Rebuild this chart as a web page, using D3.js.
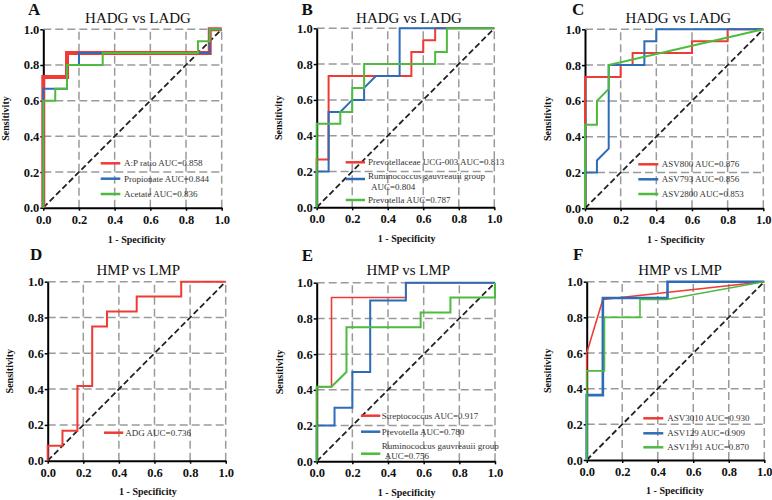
<!DOCTYPE html>
<html>
<head>
<meta charset="utf-8">
<script src="https://cdn.jsdelivr.net/npm/d3@7"></script>
<style>
  html, body { margin: 0; padding: 0; background: #fff; }
  svg { display: block; }
  svg text { font-family: "Liberation Serif", "Times New Roman", "DejaVu Serif", serif; }
</style>
</head>
<body>
<svg id="chart" width="772" height="500"></svg>
<script>
// ---------------- DATA ----------------
const panelLetters = ["A", "B", "C", "D", "E", "F"];
const panelTitles = ["HADG vs LADG", "HADG vs LADG", "HADG vs LADG", "HMP vs LMP", "HMP vs LMP", "HMP vs LMP"];
const tickValues = [0, 0.2, 0.4, 0.6, 0.8, 1.0];
const xAxisTitle = "1 - Specificity";
const yAxisTitle = "Sensitivity";

// Panel A
const rocA_APratio = [[0,0],[0,0.733],[0.133,0.733],[0.133,0.867],[0.933,0.867],[0.933,1],[1,1]];
const rocA_Propionate = [[0,0],[0,0.667],[0.133,0.667],[0.133,0.8],[0.2,0.8],[0.2,0.867],[0.933,0.867],[0.933,1],[1,1]];
const rocA_Acetate = [[0,0],[0,0.6],[0.067,0.6],[0.067,0.667],[0.133,0.667],[0.133,0.8],[0.333,0.8],[0.333,0.867],[0.867,0.867],[0.867,0.933],[0.933,0.933],[0.933,1],[1,1]];
const legendA = [["A:P ratio AUC=0.858"], ["Propionate  AUC=0.844"], ["Acetate AUC=0.836"]];

// Panel B
const rocB_Prevotellaceae = [[0,0],[0,0.267],[0.067,0.267],[0.067,0.733],[0.533,0.733],[0.533,0.867],[0.6,0.867],[0.6,0.933],[0.667,0.933],[0.667,1],[1,1]];
const rocB_Ruminococcus = [[0,0],[0,0.2],[0.067,0.2],[0.067,0.533],[0.133,0.533],[0.2,0.6],[0.267,0.6],[0.267,0.667],[0.333,0.733],[0.467,0.733],[0.467,1],[1,1]];
const rocB_Prevotella = [[0,0],[0,0.467],[0.133,0.467],[0.133,0.533],[0.2,0.533],[0.2,0.667],[0.267,0.667],[0.267,0.8],[0.667,0.8],[0.667,0.867],[0.733,0.867],[0.733,1],[1,1]];
const legendB = [["Prevotellaceae UCG-003 AUC=0.813"], ["Ruminococcus gauvreauii group", "AUC=0.804"], ["Prevotella AUC=0.787"]];

// Panel C
const rocC_ASV800 = [[0,0],[0,0.733],[0.2,0.733],[0.2,0.8],[0.267,0.8],[0.267,0.867],[0.6,0.867],[0.6,0.933],[0.8,0.933],[0.8,1],[1,1]];
const rocC_ASV793 = [[0,0],[0,0.2],[0.067,0.2],[0.067,0.267],[0.133,0.333],[0.133,0.8],[0.333,0.8],[0.333,0.933],[0.4,0.933],[0.4,1],[1,1]];
const rocC_ASV2800 = [[0,0],[0,0.467],[0.067,0.467],[0.067,0.6],[0.133,0.667],[0.133,0.8],[1,1]];
const legendC = [["ASV800 AUC=0.876"], ["ASV793 AUC=0.856"], ["ASV2800 AUC=0.853"]];

// Panel D
const rocD_ADG = [[0,0],[0,0.083],[0.083,0.083],[0.083,0.167],[0.167,0.167],[0.167,0.417],[0.25,0.417],[0.25,0.75],[0.333,0.75],[0.333,0.833],[0.5,0.833],[0.5,0.917],[0.75,0.917],[0.75,1],[1,1]];
const legendD = [["ADG AUC=0.736"]];

// Panel E
const rocE_Streptococcus = [[0,0],[0,0.417],[0.083,0.417],[0.083,0.917],[0.5,0.917],[0.5,1],[1,1]];
const rocE_Prevotella = [[0,0],[0,0.2],[0.1,0.2],[0.1,0.3],[0.2,0.3],[0.2,0.5],[0.3,0.5],[0.3,0.9],[0.5,0.9],[0.5,1],[1,1]];
const rocE_Ruminococcus = [[0,0],[0,0.417],[0.083,0.417],[0.167,0.5],[0.167,0.75],[0.583,0.75],[0.583,0.833],[0.75,0.833],[0.75,0.917],[1,0.917],[1,1]];
const legendE = [["Streptococcus AUC=0.917"], ["Prevotella AUC=0.780"], ["Ruminococcus gauvreauii group", "AUC=0.756"]];

// Panel F
const rocF_ASV3010 = [[0,0],[0,0.6],[0.091,0.9],[1,1]];
const rocF_ASV129 = [[0,0],[0,0.364],[0.091,0.364],[0.091,0.909],[0.455,0.909],[0.455,1],[1,1]];
const rocF_ASV1191 = [[0,0],[0,0.5],[0.1,0.5],[0.1,0.8],[0.3,0.8],[0.3,0.9],[0.45,0.9],[1,1]];
const legendF = [["ASV3010 AUC=0.930"], ["ASV129 AUC=0.909"], ["ASV1191 AUC=0.870"]];

// ---------------- STYLE / LAYOUT ----------------
const RED = "#ee3b36", BLUE = "#2f6cb8", GREEN = "#4cbb3e";
const FONT = "'Liberation Serif', 'Times New Roman', 'DejaVu Serif', serif";

const layout = [
  { x0: 43.3, x1: 221.7, yT: 29.3, yB: 207.7, titleX: 138, titleY: 22.7, letterX: 28, letterY: 15.2,
    xlabX: 136.7, xlabY: 242.5, ylabX: 5.5,
    leg: { lx1: 100.7, lx2: 120.3, tx: 124, lineY: [163.3, 178.7, 194], textY: [[163.3],[178.7],[194]] },
    series: [rocA_APratio, rocA_Propionate, rocA_Acetate], legend: legendA,
    colors: [RED, BLUE, GREEN], widths: [4, 2, 2] },
  { x0: 316.7, x1: 494.3, yT: 28.3, yB: 207.3, titleX: 409, titleY: 22.7, letterX: 301.5, letterY: 15.2,
    xlabX: 406.7, xlabY: 241.7, ylabX: 278,
    leg: { lx1: 345.7, lx2: 365, tx: 368, lineY: [162.3, 179, 200], textY: [[162.3],[176, 187.3],[200]] },
    series: [rocB_Prevotellaceae, rocB_Ruminococcus, rocB_Prevotella], legend: legendB,
    colors: [RED, BLUE, GREEN], widths: [2, 2, 2] },
  { x0: 585, x1: 763.3, yT: 29.3, yB: 208.3, titleX: 678.3, titleY: 23.3, letterX: 572, letterY: 15.2,
    xlabX: 676, xlabY: 242.5, ylabX: 547,
    leg: { lx1: 638.3, lx2: 658.3, tx: 661.7, lineY: [164.3, 179.3, 194], textY: [[164.3],[179.3],[194]] },
    series: [rocC_ASV800, rocC_ASV793, rocC_ASV2800], legend: legendC,
    colors: [RED, BLUE, GREEN], widths: [2, 2, 2] },
  { x0: 47.7, x1: 225.7, yT: 281.7, yB: 460.7, titleX: 138.3, titleY: 275, letterX: 30, letterY: 260,
    xlabX: 148, xlabY: 495, ylabX: 9,
    leg: { lx1: 104, lx2: 123.3, tx: 125.3, lineY: [432.7], textY: [[432.7]] },
    series: [rocD_ADG], legend: legendD,
    colors: [RED], widths: [2] },
  { x0: 316.7, x1: 495, yT: 282.7, yB: 461.3, titleX: 408.3, titleY: 275, letterX: 301.7, letterY: 260.7,
    xlabX: 406.7, xlabY: 496, ylabX: 279,
    leg: { lx1: 361, lx2: 380.3, tx: 381.7, lineY: [415.7, 431.7, 453.7], textY: [[415.7],[431.7],[446, 456]] },
    series: [rocE_Streptococcus, rocE_Prevotella, rocE_Ruminococcus], legend: legendE,
    colors: [RED, BLUE, GREEN], widths: [1.6, 2, 2] },
  { x0: 586.7, x1: 764.3, yT: 281.7, yB: 460, titleX: 680, titleY: 275, letterX: 573, letterY: 260,
    xlabX: 675, xlabY: 494, ylabX: 547,
    leg: { lx1: 643.3, lx2: 663.3, tx: 667.3, lineY: [418.3, 433.3, 447.3], textY: [[418.3],[433.3],[447.3]] },
    series: [rocF_ASV3010, rocF_ASV129, rocF_ASV1191], legend: legendF,
    colors: [RED, BLUE, GREEN], widths: [1.6, 2.6, 1.6] }
];

// ---------------- DRAW ----------------
const svg = d3.select("#chart");
const fmt = d3.format(".1f");

layout.forEach((p, i) => {
  const x = d3.scaleLinear().domain([0, 1]).range([p.x0, p.x1]);
  const y = d3.scaleLinear().domain([0, 1]).range([p.yB, p.yT]);
  const g = svg.append("g").attr("font-family", FONT);

  // grid
  const gridVals = tickValues.filter(v => v > 0);
  g.selectAll(".gx").data(gridVals).enter().append("line")
    .attr("x1", d => x(d)).attr("x2", d => x(d))
    .attr("y1", y(0)).attr("y2", y(1))
    .attr("stroke", "#9a9a9a").attr("stroke-width", 1.5).attr("stroke-dasharray", "8,4");
  g.selectAll(".gy").data(gridVals).enter().append("line")
    .attr("x1", x(0)).attr("x2", x(1))
    .attr("y1", d => y(d)).attr("y2", d => y(d))
    .attr("stroke", "#9a9a9a").attr("stroke-width", 1.5).attr("stroke-dasharray", "8,4");

  // diagonal reference
  g.append("path")
    .attr("d", d3.line().x(d => x(d[0])).y(d => y(d[1]))([[0, 0], [1, 1]]))
    .attr("stroke", "#222").attr("stroke-width", 1.8).attr("stroke-dasharray", "6,3")
    .attr("fill", "none");

  // axes
  const xAxis = d3.axisBottom(x).tickValues(tickValues).tickFormat(fmt).tickSizeInner(3).tickSizeOuter(0).tickPadding(4);
  const yAxis = d3.axisLeft(y).tickValues(tickValues).tickFormat(fmt).tickSizeInner(3).tickSizeOuter(0).tickPadding(1);
  const gx = g.append("g").attr("transform", `translate(0,${p.yB})`).call(xAxis);
  const gy = g.append("g").attr("transform", `translate(${p.x0},0)`).call(yAxis);
  [gx, gy].forEach(a => {
    a.attr("font-family", FONT);
    a.select(".domain").attr("stroke", "#000").attr("stroke-width", 2);
    a.selectAll(".tick line").attr("stroke", "#000").attr("stroke-width", 1.5);
    a.selectAll(".tick text")
      .attr("font-family", FONT)
      .attr("font-size", 12.5).attr("font-weight", "bold").attr("fill", "#111");
  });

  // curves
  const line = d3.line().x(d => x(d[0])).y(d => y(d[1]));
  p.series.forEach((s, k) => {
    g.append("path").attr("d", line(s))
      .attr("fill", "none").attr("stroke", p.colors[k])
      .attr("stroke-width", p.widths[k]).attr("stroke-linejoin", "miter");
  });

  // legend
  p.legend.forEach((lbl, k) => {
    g.append("line")
      .attr("x1", p.leg.lx1).attr("x2", p.leg.lx2)
      .attr("y1", p.leg.lineY[k]).attr("y2", p.leg.lineY[k])
      .attr("stroke", p.colors[k]).attr("stroke-width", 2.5);
    lbl.forEach((t, j) => {
      g.append("text")
        .attr("x", p.leg.tx + (j > 0 ? 3 : 0)).attr("y", p.leg.textY[k][j])
        .attr("dominant-baseline", "central")
        .attr("font-size", 9).attr("fill", "#333")
        .text(t);
    });
  });

  // titles
  g.append("text").attr("x", p.titleX).attr("y", p.titleY)
    .attr("text-anchor", "middle").attr("font-size", 15).attr("fill", "#111")
    .text(panelTitles[i]);
  g.append("text").attr("x", p.letterX).attr("y", p.letterY)
    .attr("font-size", 17).attr("font-weight", "bold").attr("fill", "#111")
    .text(panelLetters[i]);
  g.append("text").attr("x", p.xlabX).attr("y", p.xlabY)
    .attr("text-anchor", "middle").attr("font-size", 10).attr("font-weight", "bold").attr("fill", "#111")
    .text(xAxisTitle);
  g.append("text")
    .attr("transform", `translate(${p.ylabX},${(p.yT + p.yB) / 2}) rotate(-90)`)
    .attr("text-anchor", "middle").attr("dominant-baseline", "central")
    .attr("font-size", 10).attr("font-weight", "bold").attr("fill", "#111")
    .text(yAxisTitle);
});
</script>
</body>
</html>
